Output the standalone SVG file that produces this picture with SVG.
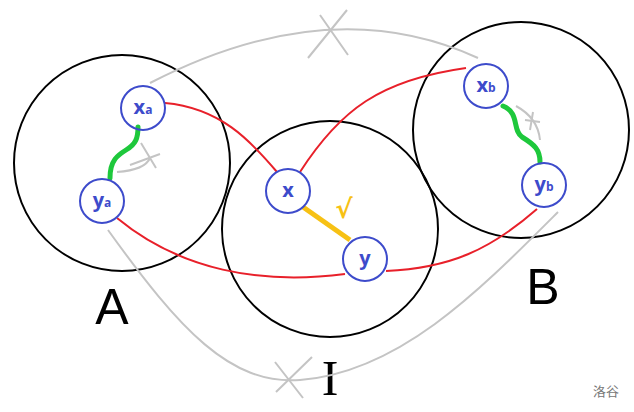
<svg xmlns="http://www.w3.org/2000/svg" width="634" height="412" viewBox="0 0 634 412">
<style>
.big{fill:none;stroke:#000;stroke-width:2}
.node circle{fill:none;stroke:#3d4bcb;stroke-width:2}
.lbl{font-family:"Open Sans","Liberation Sans",sans-serif;font-weight:bold;fill:#3d4bcb;font-size:20px;text-anchor:middle}
.sub{font-size:12px}
.red{fill:none;stroke:#e8202a;stroke-width:2}
.gray{fill:none;stroke:#c4c4c4;stroke-width:2}
.green{fill:none;stroke:#1ec83c;stroke-width:5;stroke-linecap:round}
.big-lbl{font-family:"Liberation Sans",Arial,sans-serif;font-size:50px;fill:#000;text-anchor:middle}
</style>
<rect width="634" height="412" fill="#fff"/>
<g id="set-A"><circle class="big" cx="122" cy="163" r="108"/><text class="big-lbl" x="112" y="324">A</text></g>
<g id="set-I"><circle class="big" cx="330" cy="229" r="108"/><text x="330" y="395" font-family="Liberation Serif,Times New Roman,serif" font-size="50" text-anchor="middle">I</text></g>
<g id="set-B"><circle class="big" cx="521" cy="130" r="108"/><text class="big-lbl" x="543" y="304">B</text></g>
<g id="connectors">
<path class="gray" d="M150,83 Q330,-10 478,58"/>
<path class="gray" d="M320,15 L348,55 M347,10 L308,58"/>
<path class="gray" d="M108,230 C180,330 230,385 300,380 C400,372 480,290 558,212"/>
<path class="gray" d="M275,362 L303,398 M312,357 L276,392"/>
<path class="gray" d="M117,172 Q145,170 150,158"/>
<path class="gray" d="M141,143 L156,168 M130,165 L160,154"/>
<path class="gray" d="M516,106 Q538,118 540,140"/>
<path class="gray" d="M525,120 L540,122 M533,112 L530,130"/>
<path class="red" d="M165,103 C220,108 250,140 277,172"/>
<path class="red" d="M300,172 C340,110 380,80 466,68"/>
<path class="red" d="M117,218 C180,270 260,285 345,274"/>
<path class="red" d="M386,271 C450,268 490,250 537,209"/>
<path class="green" d="M110,178 C110,160 118,155 126,150 C136,144 138,138 138,127"/>
<path class="green" d="M503,106 C520,113 512,130 522,137 C535,145 540,150 540,162"/>
<path d="M303,207 L350,240" stroke="#f7c114" stroke-width="5" fill="none"/>
<text x="344" y="218" font-family="DejaVu Sans,sans-serif" font-weight="bold" font-size="26" fill="#f7c114" text-anchor="middle">√</text>
</g>
<g id="xa" class="node"><circle cx="143" cy="108" r="22"/><text class="lbl" x="143" y="114">x<tspan class="sub">a</tspan></text></g>
<g id="ya" class="node"><circle cx="102" cy="201" r="22"/><text class="lbl" x="102" y="207">y<tspan class="sub">a</tspan></text></g>
<g id="x" class="node"><circle cx="288" cy="191" r="22"/><text class="lbl" x="288" y="197">x</text></g>
<g id="y" class="node"><circle cx="365" cy="259" r="22"/><text class="lbl" x="365" y="265">y</text></g>
<g id="xb" class="node"><circle cx="486" cy="86" r="22"/><text class="lbl" x="486" y="92">x<tspan class="sub">b</tspan></text></g>
<g id="yb" class="node"><circle cx="544" cy="185" r="22"/><text class="lbl" x="544" y="191">y<tspan class="sub">b</tspan></text></g>
<text x="606" y="396" font-family="Noto Sans CJK SC,sans-serif" font-size="13" fill="#777" text-anchor="middle">洛谷</text>
</svg>
